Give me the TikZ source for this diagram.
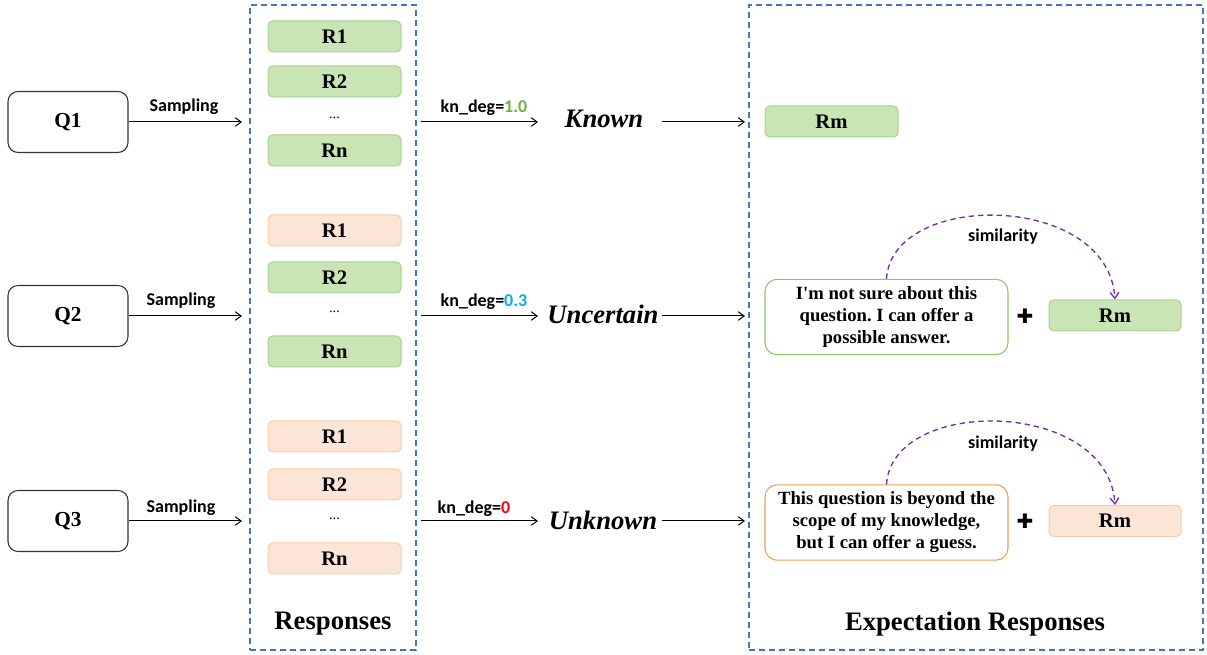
\documentclass[tikz,border=0pt]{standalone}
\usepackage{fontspec}
\setmainfont{Liberation Serif}[Ligatures=TeXOff]
\newfontfamily\carl{Carlito}
\newfontfamily\djv{DejaVu Sans}
\usetikzlibrary{arrows.meta}
\frenchspacing
\definecolor{gfill}{HTML}{C9E5B6}
\definecolor{gdraw}{HTML}{A9D18E}
\definecolor{ofill}{HTML}{FBE5D6}
\definecolor{odraw}{HTML}{F8CBAD}
\definecolor{bdash}{HTML}{4472C4}
\definecolor{purp}{HTML}{7030A0}
\definecolor{kgreen}{HTML}{70AD47}
\definecolor{kblue}{HTML}{00B0F0}
\definecolor{kred}{HTML}{FF0000}
\definecolor{tgreen}{HTML}{8CC66A}
\definecolor{torange}{HTML}{F29D55}
\begin{document}
\begin{tikzpicture}[x=0.75pt,y=-0.75pt,
  qbox/.style={draw=black!80,line width=0.8pt,fill=white,rounded corners=7.5pt,minimum width=90pt,minimum height=45.75pt,font=\fontsize{16}{19}\selectfont\bfseries,inner sep=0pt},
  rg/.style={draw=gdraw,line width=0.75pt,fill=gfill,rounded corners=3.5pt,minimum width=99.75pt,minimum height=23.25pt,font=\fontsize{15.5}{18}\selectfont\bfseries,inner sep=0pt},
  ro/.style={rg,draw=odraw,fill=ofill},
  dashbox/.style={draw=bdash,line width=1.1pt,dash pattern=on 4.5pt off 3pt,minimum width=#1,inner sep=0pt},
  lbl/.style={font=\carl\fontsize{13.5}{16}\selectfont\bfseries,inner sep=0pt},
  state/.style={font=\fontsize{20}{24}\selectfont\bfseries\itshape,inner sep=0pt},
  ttl/.style={font=\fontsize{20}{24}\selectfont\bfseries,inner sep=0pt},
  tbox/.style={draw=#1,line width=0.8pt,fill=white,rounded corners=9pt,minimum width=182.25pt,minimum height=56.5pt,align=center,font=\fontsize{14}{16.5}\selectfont\bfseries\frenchspacing,inner sep=0pt},
  arr/.style={-{Straight Barb[length=4.5pt,width=6.5pt]},line width=0.75pt},
  sim/.style={-{Straight Barb[length=4.5pt,width=6.5pt]},draw=purp,line width=1pt,dash pattern=on 4pt off 3pt},
  plus/.style={font=\djv\fontsize{15}{18}\selectfont,inner sep=0pt},
  dots/.style={font=\fontsize{11}{13}\selectfont,inner sep=0pt}
]
\useasboundingbox (0,0) rectangle (1207,655);
% dashed containers
\node[dashbox=124.5pt,minimum height=483.75pt] (resp) at (333,327.5) {};
\node[dashbox=340.5pt,minimum height=483.75pt] (expb) at (976,327.5) {};
\node[ttl] (resptitle) at (333,624) {Responses};
\node[ttl] (exptitle) at (975,624) {Expectation Responses};

% questions
\node[qbox] (q1) at (68,122) {Q1};
\node[qbox] (q2) at (68,316) {Q2};
\node[qbox] (q3) at (68,521) {Q3};

% responses group 1
\node[rg] (a1) at (334.5,36.5) {R1};
\node[rg] (a2) at (334.5,81.5) {R2};
\node[dots] (ad) at (334.5,118) {...};
\node[rg] (an) at (334.5,150.5) {Rn};
% group 2
\node[ro] (b1) at (334.5,230.5) {R1};
\node[rg] (b2) at (334.5,277.5) {R2};
\node[dots] (bd) at (334.5,312) {...};
\node[rg] (bn) at (334.5,351.5) {Rn};
% group 3
\node[ro] (c1) at (334.5,436.5) {R1};
\node[ro] (c2) at (334.5,484.5) {R2};
\node[dots] (cd) at (334.5,519) {...};
\node[ro] (cn) at (334.5,558.5) {Rn};

% coordinates
\coordinate (s1) at (242,122);
\coordinate (s2) at (242,316);
\coordinate (s3) at (242,521);
\coordinate (k1a) at (421,122);  \coordinate (k1b) at (538,122);
\coordinate (k2a) at (421,316);  \coordinate (k2b) at (538,316);
\coordinate (k3a) at (421,521);  \coordinate (k3b) at (538,521);
\coordinate (e1a) at (662,122);  \coordinate (e1b) at (745,122);
\coordinate (e2a) at (662,316);  \coordinate (e2b) at (745,316);
\coordinate (e3a) at (662,521);  \coordinate (e3b) at (745,521);

% sampling arrows
\draw[arr] (q1.east) -- (s1);
\draw[arr] (q2.east) -- (s2);
\draw[arr] (q3.east) -- (s3);
\node[lbl] (sl1) at (184,107) {Sampling};
\node[lbl] (sl2) at (181,301) {Sampling};
\node[lbl] (sl3) at (181,508) {Sampling};

% kn_deg arrows
\draw[arr] (k1a) -- (k1b);
\draw[arr] (k2a) -- (k2b);
\draw[arr] (k3a) -- (k3b);
\node[lbl] (kl1) at (484,108) {kn\_deg=\textcolor{kgreen}{1.0}};
\node[lbl] (kl2) at (484,302) {kn\_deg=\textcolor{kblue}{0.3}};
\node[lbl] (kl3) at (474,509) {kn\_deg=\textcolor{kred}{0}};

% states
\node[state] (st1) at (604,119) {Known};
\node[state] (st2) at (603,314) {Uncertain};
\node[state] (st3) at (603,520) {Unknown};
\draw[arr] (e1a) -- (e1b);
\draw[arr] (e2a) -- (e2b);
\draw[arr] (e3a) -- (e3b);

% expectation responses
\node[rg] (rm1) at (831.5,121.5) {Rm};
\node[tbox=tgreen] (t2) at (886.5,317) {I'm not sure about this\\question. I can offer a\\possible answer.};
\node[plus] (p2) at (1025,316) {✚};
\node[rg,minimum width=99pt] (rm2) at (1115,315.5) {Rm};
\node[tbox=torange] (t3) at (886.5,522.5) {This question is beyond the\\scope of my knowledge,\\but I can offer a guess.};
\node[plus] (p3) at (1025,521) {✚};
\node[ro,minimum width=99pt] (rm3) at (1115,521) {Rm};

% similarity arcs
\draw[sim] (t2.north) .. controls (892,190) and (1108,192) .. (rm2.north);
\node[lbl] (sim2) at (1003,237) {similarity};
\draw[sim] (t3.north) .. controls (892,396) and (1108,398) .. (rm3.north);
\node[lbl] (sim3) at (1003,444) {similarity};
\end{tikzpicture}
\end{document}
